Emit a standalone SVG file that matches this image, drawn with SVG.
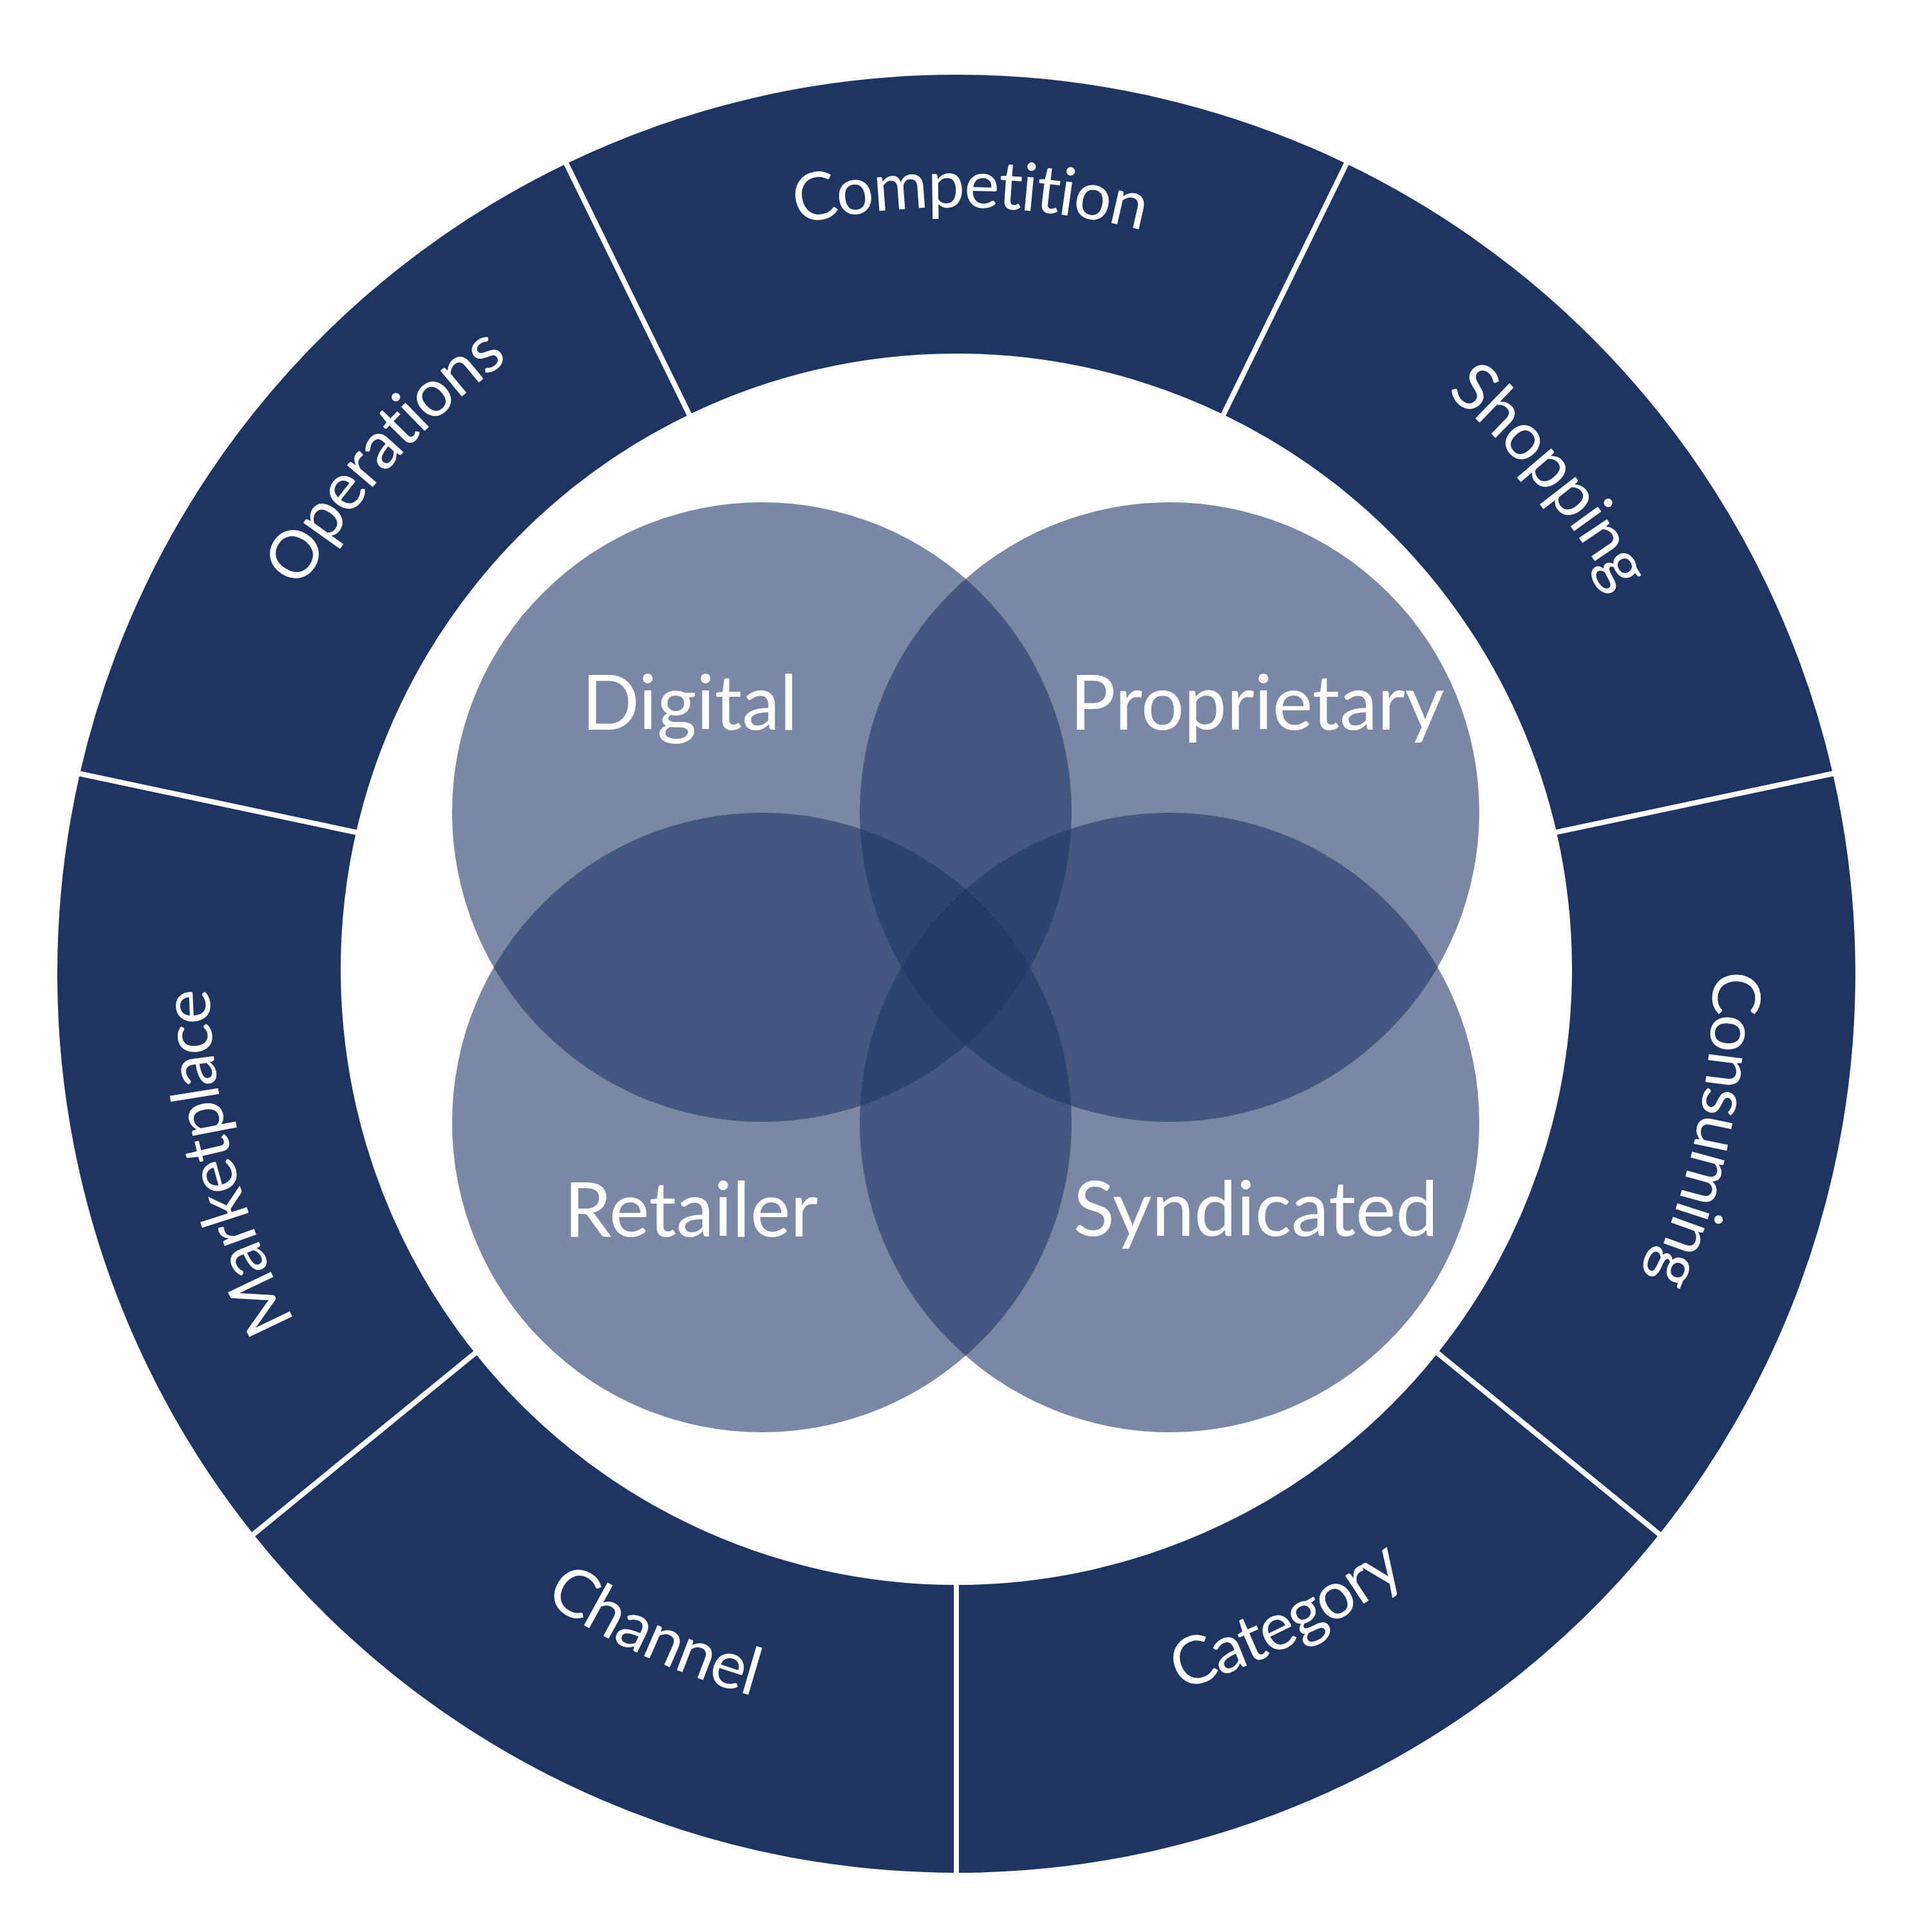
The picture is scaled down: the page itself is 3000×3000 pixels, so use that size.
<svg xmlns="http://www.w3.org/2000/svg" xmlns:xlink="http://www.w3.org/1999/xlink" width="3000" height="3000" viewBox="0 0 3000 3000">
<defs>
<style>
.seg{fill:#1e3564;stroke:#ffffff;stroke-width:8;stroke-linejoin:miter}
.ring-label{font-family:Lato,"Open Sans","Liberation Sans",sans-serif;font-size:103px;letter-spacing:-2px;fill:#ffffff;font-variant-ligatures:none;font-feature-settings:"liga" 0,"clig" 0,"dlig" 0}
.venn{fill:#1e3564;fill-opacity:0.59}
.venn-label{font-family:Lato,"Open Sans","Liberation Sans",sans-serif;font-size:118px;fill:#ffffff;text-anchor:middle;font-variant-ligatures:none}
</style>
<path id="p-competition" d="M 1000.98 424.88 A 1190 1190 0 0 1 2006.66 442.44"/>
<path id="p-shopping" d="M 1983.69 442.56 A 1180 1180 0 0 1 2624.79 1206.59"/>
<path id="p-consuming" d="M 2628.48 1241.69 A 1175 1175 0 0 1 2427.09 2214.21"/>
<path id="p-category" d="M 1527.69 2676.22 A 1165 1165 0 0 0 2403.03 2229.24"/>
<path id="p-channel" d="M 597.81 2267.06 A 1165 1165 0 0 0 1493.13 2676.97"/>
<path id="p-marketplace" d="M 589.91 2249.85 A 1160 1160 0 0 1 344.42 1300.61"/>
<path id="p-operations" d="M 357.16 1165.03 A 1180 1180 0 0 1 1025.83 425.00"/>
</defs>
<rect width="3000" height="3000" fill="#ffffff"/>
<g id="ring">
<g id="seg-competition">
<path class="seg" d="M 877.56 250.64 A 1400 1400 0 0 1 2092.44 250.64 L 1898.06 647.28 A 952 952 0 0 0 1071.94 647.28 Z"/>
<text class="ring-label"><textPath xlink:href="#p-competition" href="#p-competition" startOffset="50%" text-anchor="middle">Competition</textPath></text>
</g>
<g id="seg-shopping">
<path class="seg" d="M 2092.44 250.64 A 1400 1400 0 0 1 2849.90 1200.47 L 2413.13 1293.16 A 952 952 0 0 0 1898.06 647.28 Z"/>
<text class="ring-label"><textPath xlink:href="#p-shopping" href="#p-shopping" startOffset="50%" text-anchor="middle">Shopping</textPath></text>
</g>
<g id="seg-consuming">
<path class="seg" d="M 2849.90 1200.47 A 1400 1400 0 0 1 2579.56 2384.89 L 2229.30 2098.56 A 952 952 0 0 0 2413.13 1293.16 Z"/>
<text class="ring-label"><textPath xlink:href="#p-consuming" href="#p-consuming" startOffset="50%" text-anchor="middle">Consuming</textPath></text>
</g>
<g id="seg-category">
<path class="seg" d="M 2579.56 2384.89 A 1400 1400 0 0 1 1485 2912 L 1485 2457 A 952 952 0 0 0 2229.30 2098.56 Z"/>
<text class="ring-label"><textPath xlink:href="#p-category" href="#p-category" startOffset="50%" text-anchor="middle">Category</textPath></text>
</g>
<g id="seg-channel">
<path class="seg" d="M 1485 2912 A 1400 1400 0 0 1 390.44 2384.89 L 740.70 2098.56 A 952 952 0 0 0 1485 2457 Z"/>
<text class="ring-label"><textPath xlink:href="#p-channel" href="#p-channel" startOffset="50%" text-anchor="middle">Channel</textPath></text>
</g>
<g id="seg-marketplace">
<path class="seg" d="M 390.44 2384.89 A 1400 1400 0 0 1 120.10 1200.47 L 556.87 1293.16 A 952 952 0 0 0 740.70 2098.56 Z"/>
<text class="ring-label"><textPath xlink:href="#p-marketplace" href="#p-marketplace" startOffset="50%" text-anchor="middle">Marketplace</textPath></text>
</g>
<g id="seg-operations">
<path class="seg" d="M 120.10 1200.47 A 1400 1400 0 0 1 877.56 250.64 L 1071.94 647.28 A 952 952 0 0 0 556.87 1293.16 Z"/>
<text class="ring-label"><textPath xlink:href="#p-operations" href="#p-operations" startOffset="50%" text-anchor="middle">Operations</textPath></text>
</g>
</g>
<g id="venn">
<g id="digital"><circle class="venn" cx="1183" cy="1261" r="481"/></g>
<g id="proprietary"><circle class="venn" cx="1816" cy="1261" r="481"/></g>
<g id="retailer"><circle class="venn" cx="1183" cy="1743" r="481"/></g>
<g id="syndicated"><circle class="venn" cx="1816" cy="1743" r="481"/></g>
</g>
<g id="venn-labels">
<text class="venn-label" x="1071" y="1133">Digital</text>
<text class="venn-label" x="1952" y="1133">Proprietary</text>
<text class="venn-label" x="1073" y="1920">Retailer</text>
<text class="venn-label" x="1950" y="1919">Syndicated</text>
</g>
</svg>
